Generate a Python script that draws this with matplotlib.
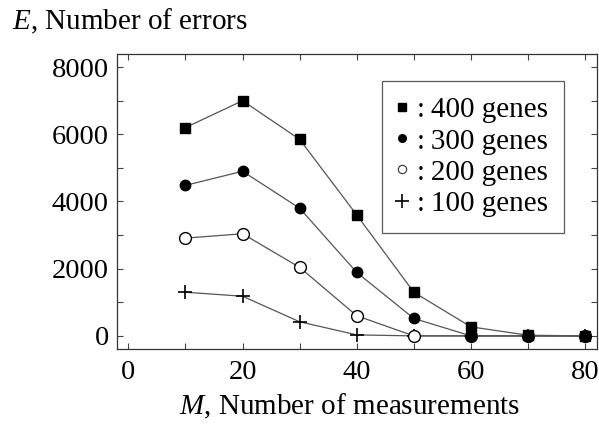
import matplotlib
matplotlib.use("Agg")
import matplotlib.pyplot as plt
from matplotlib.lines import Line2D
from matplotlib.ticker import MultipleLocator

M = [10, 20, 30, 40, 50, 60, 70, 80]
genes400 = [6200, 7000, 5850, 3600, 1300, 270, 20, 0]
genes300 = [4480, 4900, 3800, 1890, 520, 0, 0, 0]
genes200 = [2910, 3040, 2040, 600, 0, 0, 0, 0]
genes100 = [1300, 1180, 420, 30, 0, 0, 0, 0]
labels = [":\u2009400 genes", ":\u2009300 genes", ":\u2009200 genes", ":\u2009100 genes"]

plt.rcParams['font.family'] = ['Liberation Serif', 'DejaVu Serif']
plt.rcParams['mathtext.fontset'] = 'custom'
plt.rcParams['mathtext.it'] = 'Liberation Serif:italic'
plt.rcParams['mathtext.rm'] = 'Liberation Serif'

fig = plt.figure(figsize=(5.99, 4.24), dpi=100)
ax = fig.add_axes([117/599, 1-349/424, (597-117)/599, (349-54)/424])

lc = '#555555'
lw = 0.9
ax.plot(M, genes100, color=lc, lw=lw, marker='+', ms=10, mec='black', mew=1.2, zorder=2)
ax.plot(M, genes200, color=lc, lw=lw, marker='o', ms=8.5, mfc='white', mec='black', mew=1.0, zorder=3)
ax.plot(M, genes300, color=lc, lw=lw, marker='o', ms=7.5, mfc='black', mec='black', zorder=4)
ax.plot(M, genes400, color=lc, lw=lw, marker='s', ms=7.5, mfc='black', mec='black', zorder=5)

ax.set_xlim(-2, 82.1)
ax.set_ylim(-390, 8390)
ax.xaxis.set_major_locator(MultipleLocator(20))
ax.xaxis.set_minor_locator(MultipleLocator(10))
ax.yaxis.set_major_locator(MultipleLocator(2000))
ax.yaxis.set_minor_locator(MultipleLocator(1000))
ax.tick_params(which='both', direction='in', top=True, right=True, labelsize=20.5,
               width=0.8, length=4, color='#444444')
ax.tick_params(axis='x', pad=8)
ax.tick_params(axis='y', pad=6)
for s in ax.spines.values():
    s.set_linewidth(0.9)
    s.set_color('#333333')

fig.text(12/599, 1-29/424, r"$E$, Number of errors", fontsize=21, va='baseline', ha='left')
fig.text(350/599, 1-414/424, r"$M$, Number of measurements", fontsize=21, va='baseline', ha='center')

handles = [
    Line2D([], [], ls='none', marker='s', ms=5.5, mfc='black', mec='black'),
    Line2D([], [], ls='none', marker='o', ms=5.5, mfc='black', mec='black'),
    Line2D([], [], ls='none', marker='o', ms=6, mfc='white', mec='#333333', mew=0.8),
    Line2D([], [], ls='none', marker='+', ms=10, mec='black', mew=1.2),
]
leg = ax.legend(handles, labels, loc='upper right', bbox_to_anchor=(564/599, 1-81/424),
                bbox_transform=fig.transFigure, fontsize=21, frameon=True, fancybox=False,
                edgecolor='#333333', handlelength=0.3, handletextpad=0.35, labelspacing=0.16,
                borderpad=0.55, borderaxespad=0)
leg.get_frame().set_linewidth(0.9)

fig.savefig("out.png", dpi=100)
